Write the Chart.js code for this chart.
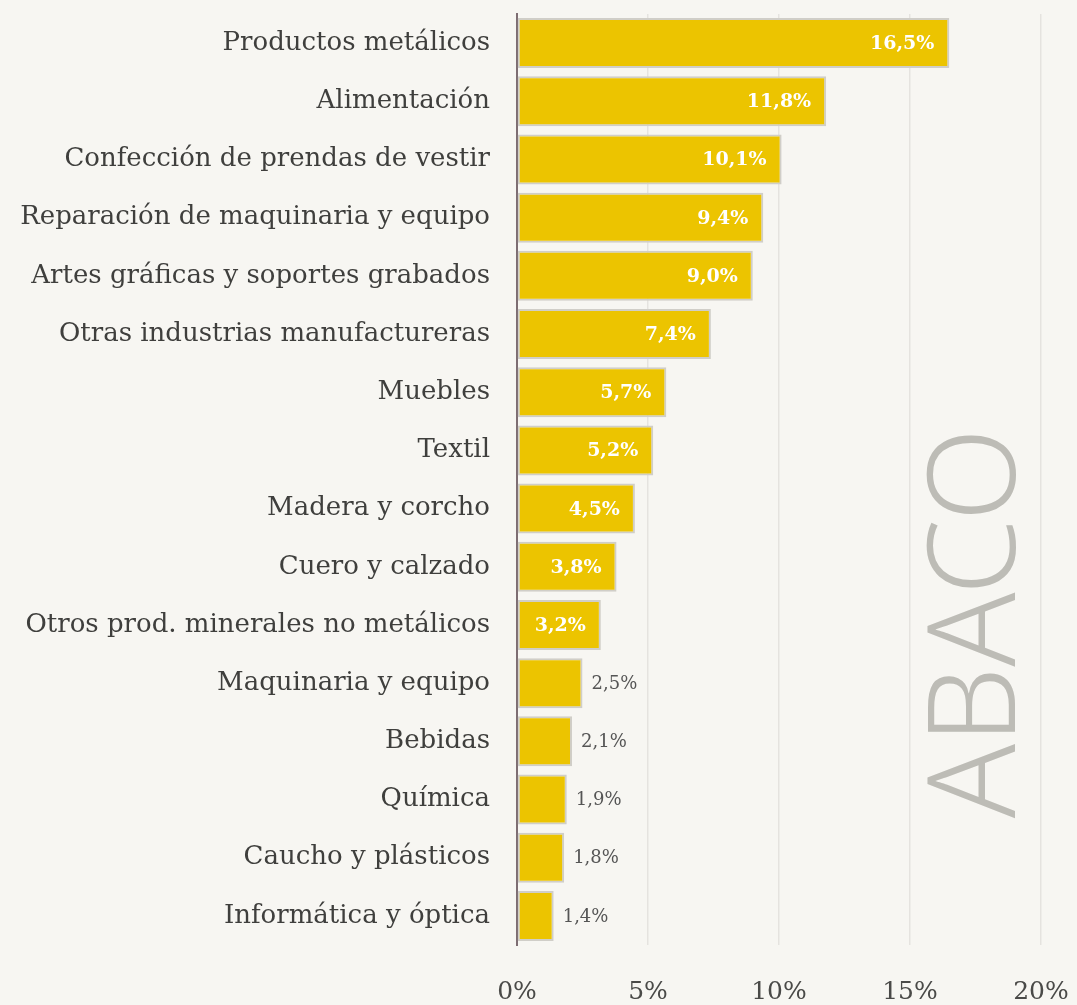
<!DOCTYPE html>
<html>
<head>
<meta charset="utf-8">
<script src="https://cdn.jsdelivr.net/npm/chart.js@4.4.1/dist/chart.umd.min.js"></script>
<style>
  html, body { margin: 0; padding: 0; background: #f7f6f2; }
  #wrap { width: 1077px; height: 1005px; }
</style>
</head>
<body>
<div id="wrap"><canvas id="myChart" width="1077" height="1005"></canvas></div>
<script>
// sectores y peso (%)
const sectores = [
    'Productos metálicos',
    'Alimentación',
    'Confección de prendas de vestir',
    'Reparación de maquinaria y equipo',
    'Artes gráficas y soportes grabados',
    'Otras industrias manufactureras',
    'Muebles',
    'Textil',
    'Madera y corcho',
    'Cuero y calzado',
    'Otros prod. minerales no metálicos',
    'Maquinaria y equipo',
    'Bebidas',
    'Química',
    'Caucho y plásticos',
    'Informática y óptica'
];
const pesos = [16.5, 11.8, 10.1, 9.4, 9.0, 7.4, 5.7, 5.2, 4.5, 3.8, 3.2, 2.5, 2.1, 1.9, 1.8, 1.4];
const ticksX = [0, 5, 10, 15, 20];

const serif = "'DejaVu Serif', serif";

const fondo = {
    id: 'fondo',
    beforeDraw(chart) {
        const ctx = chart.ctx;
        ctx.save();
        ctx.fillStyle = '#f7f6f2';
        ctx.fillRect(0, 0, chart.width, chart.height);
        // logo de fondo
        ctx.translate(980, 623);
        ctx.rotate(-Math.PI / 2);
        ctx.fillStyle = '#bdbcb6';
        ctx.font = "300 122px 'Noto Sans', sans-serif";
        ctx.textAlign = 'center';
        ctx.textBaseline = 'middle';
        ctx.fillText('ABACO', 0, 0);
        ctx.restore();
    }
};

const etiquetas = {
    id: 'etiquetas',
    afterDatasetsDraw(chart) {
        const ctx = chart.ctx;
        const meta = chart.getDatasetMeta(0);
        ctx.save();
        ctx.textBaseline = 'middle';
        meta.data.forEach((bar, i) => {
            const v = pesos[i];
            const txt = v.toFixed(1).replace('.', ',') + '%';
            if (v >= 3) {
                ctx.fillStyle = '#ffffff';
                ctx.font = "bold 19px " + serif;
                ctx.textAlign = 'right';
                ctx.fillText(txt, bar.x - 15, bar.y + 1);
            } else {
                ctx.fillStyle = '#555555';
                ctx.font = "18px " + serif;
                ctx.textAlign = 'left';
                ctx.fillText(txt, bar.x + 9, bar.y + 1);
            }
        });
        ctx.restore();
    }
};

const ctx = document.getElementById('myChart').getContext('2d');
const chart = new Chart(ctx, {
    type: 'bar',
    data: {
        labels: sectores,
        datasets: [{
            data: pesos,
            backgroundColor: '#ecc400',
            borderColor: '#d0cec8',
            borderWidth: 2,
            borderSkipped: false,
            categoryPercentage: 1,
            barPercentage: 0.86
        }]
    },
    options: {
        indexAxis: 'y',
        responsive: false,
        animation: false,
        layout: { padding: { top: 14, right: 36, left: 0, bottom: 0 } },
        plugins: {
            legend: { display: false },
            tooltip: { enabled: false }
        },
        scales: {
            x: {
                min: 0,
                max: 20,
                afterBuildTicks: (scale) => { scale.ticks = ticksX.map(v => ({ value: v })); },
                afterFit: (scale) => {
                    scale.height = 60;
                    scale.paddingLeft = 0;
                    scale.paddingRight = 0;
                },
                grid: { color: '#e5e3df', lineWidth: 1.5, drawTicks: false },
                border: { display: false },
                ticks: {
                    padding: 32,
                    color: '#4a4a48',
                    font: { family: serif, size: 25 },
                    callback: (v) => v + '%'
                }
            },
            y: {
                afterFit: (scale) => {
                    scale.width = 517;
                    scale.paddingTop = 0;
                    scale.paddingBottom = 0;
                },
                grid: { display: false, drawTicks: false },
                border: { display: true, color: '#7d6d72', width: 2 },
                ticks: {
                    padding: 27,
                    color: '#3f3f3d',
                    font: { family: serif, size: 26 }
                }
            }
        }
    },
    plugins: [fondo, etiquetas]
});
</script>
</body>
</html>
